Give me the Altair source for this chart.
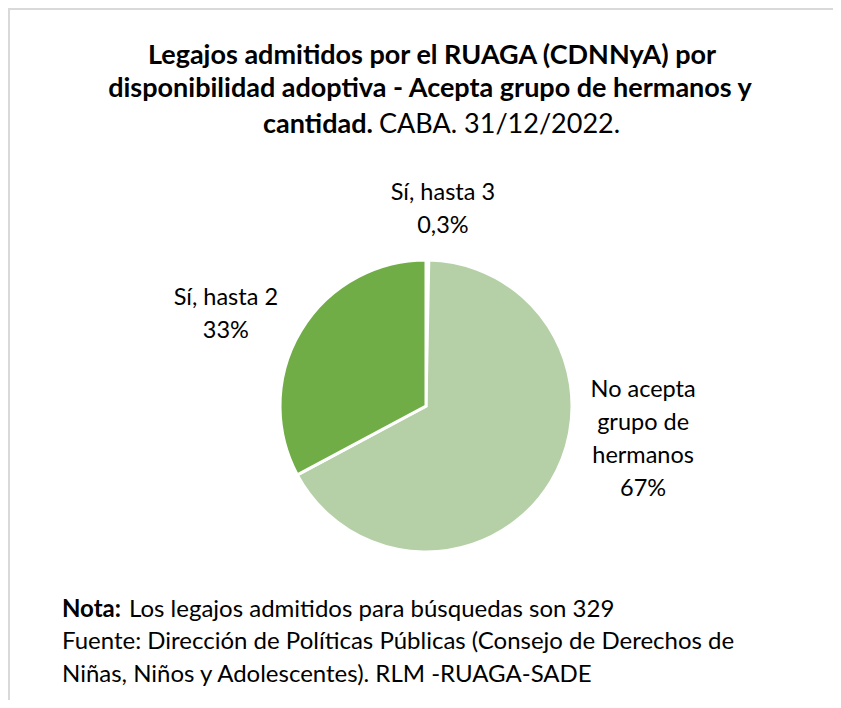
import altair as alt
import pandas as pd

# ---- data ----
categorias = ["Sí, hasta 3", "No acepta grupo de hermanos", "Sí, hasta 2"]
legajos = [1, 220, 108]
etiquetas = ["Sí, hasta 3\n0,3%", "No acepta\ngrupo de\nhermanos\n67%", "Sí, hasta 2\n33%"]
orden = [0, 1, 2]
colores = ["#e2efda", "#b5d0a7", "#70ad47"]

titulo_1 = "Legajos admitidos por el RUAGA (CDNNyA) por"
titulo_2 = "disponibilidad adoptiva - Acepta grupo de hermanos y"
titulo_3_negrita = "cantidad."
titulo_3_normal = "CABA. 31/12/2022."
nota_negrita = "Nota:"
nota_texto = "Los legajos admitidos para búsquedas son 329"
fuente_1 = "Fuente: Dirección de Políticas Públicas (Consejo de Derechos de"
fuente_2 = "Niñas, Niños y Adolescentes). RLM -RUAGA-SADE"

df = pd.DataFrame({"categoria": categorias, "legajos": legajos,
                   "etiqueta": etiquetas, "orden": orden})

W, H = 825, 692
CX, CY = 418, 398
FONT = "Lato"
LH = 33

base = alt.Chart(df)

pie = base.mark_arc(outerRadius=146, stroke="white", strokeWidth=3).encode(
    theta=alt.Theta("legajos:Q", stack=True),
    color=alt.Color("categoria:N", scale=alt.Scale(domain=categorias, range=colores), legend=None),
    order=alt.Order("orden:Q"),
    x=alt.value(CX), y=alt.value(CY),
)

# label placement per slice: (radius, dx, dy) — dy is for the first line
label_layout = {
    "Sí, hasta 3": (198, 15, -15),
    "No acepta grupo de hermanos": (210, 38, -126),
    "Sí, hasta 2": (210, -20, 0),
}

label_base = base.transform_joinaggregate(total="sum(legajos)").transform_stack(
    stack="legajos", groupby=[], as_=["t0", "t1"], sort=[alt.SortField("orden")]
).transform_calculate(ang="PI * (datum.t0 + datum.t1) / datum.total")

labels = []
for cat, (r, dx, dy) in label_layout.items():
    labels.append(
        label_base.transform_filter(alt.datum.categoria == cat).mark_text(
            radius=r, dx=dx, dy=dy, lineBreak="\n", lineHeight=LH,
            fontSize=23.5, font=FONT, color="#000000", baseline="middle", align="center"
        ).encode(
            theta=alt.Theta("ang:Q", scale=None),
            text="etiqueta:N",
            x=alt.value(CX), y=alt.value(CY),
        )
    )

one = alt.Chart(alt.Data(values=[{}]))


def txt(s, x, y, size, bold=False, align="center"):
    return one.mark_text(text=s, fontSize=size, font=FONT, fontWeight="bold" if bold else "normal",
                         align=align, baseline="alphabetic", color="#000000").encode(
        x=alt.value(x), y=alt.value(y))


title_size = 27
foot_size = 24
texts = [
    txt(titulo_1, 424, 56, title_size, True),
    txt(titulo_2, 422, 89, title_size, True),
    txt(titulo_3_negrita, 365, 125, title_size, True, "right"),
    txt(titulo_3_normal, 371, 125, title_size, False, "left"),
    txt(nota_negrita, 54, 609, foot_size, True, "left"),
    txt(nota_texto, 121, 609, foot_size, False, "left"),
    txt(fuente_1, 54, 641, foot_size, False, "left"),
    txt(fuente_2, 54, 674, foot_size, False, "left"),
]

border_top = one.mark_rule(color="#d9d9d9", strokeWidth=2).encode(
    x=alt.value(0), x2=alt.value(W), y=alt.value(1))
border_left = one.mark_rule(color="#d9d9d9", strokeWidth=2).encode(
    x=alt.value(1), y=alt.value(0), y2=alt.value(H))

chart = alt.layer(border_top, border_left, pie, *labels, *texts).properties(
    width=W, height=H, autosize=alt.AutoSizeParams(type="none"), padding=0
).configure_view(stroke=None)

chart.save("out.html", embed_options={"renderer": "svg", "actions": False})
